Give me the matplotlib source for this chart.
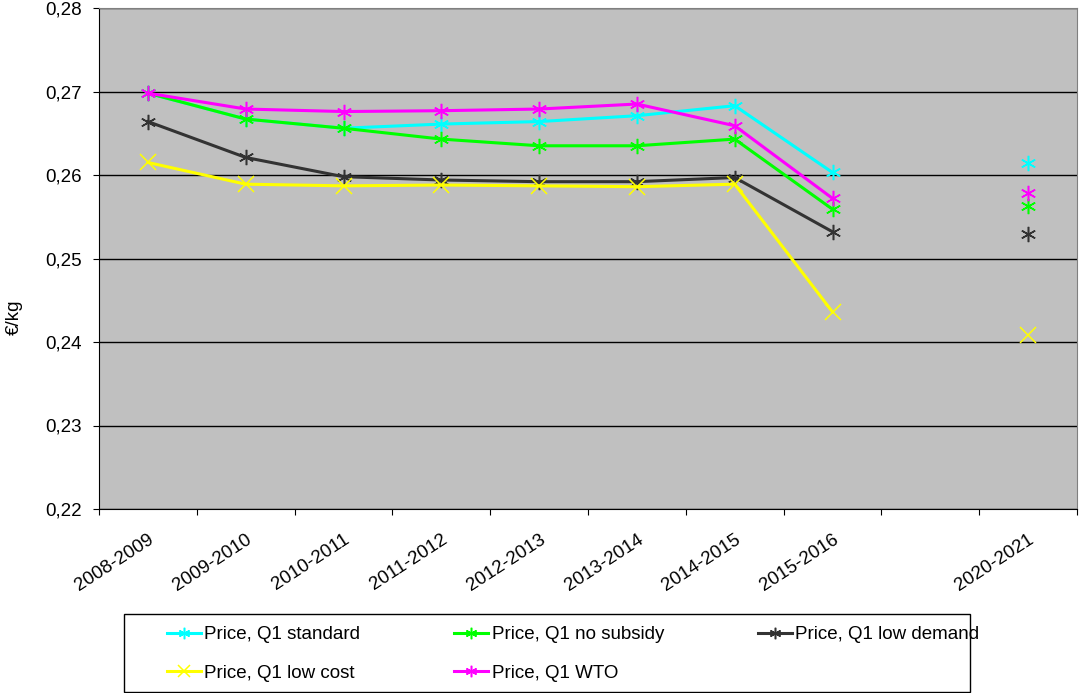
import matplotlib
matplotlib.use('Agg')
import matplotlib.pyplot as plt
from matplotlib.patches import Rectangle
import numpy as np

plt.rcParams['font.family'] = ['Liberation Sans', 'DejaVu Sans']

# Categories (slot 8 is an empty gap in the original chart)
seasons = ['2008-2009', '2009-2010', '2010-2011', '2011-2012', '2012-2013',
           '2013-2014', '2014-2015', '2015-2016', '', '2020-2021']

nan = np.nan
standard = [0.2698, 0.2667, 0.2656, 0.2661, 0.2664, 0.2671, 0.2683, 0.2603, nan, 0.2614]
no_subsidy = [0.2698, 0.2667, 0.2656, 0.2643, 0.2635, 0.2635, 0.2643, 0.2559, nan, 0.2563]
low_demand = [0.2664, 0.2621, 0.2598, 0.2594, 0.2592, 0.2592, 0.2597, 0.2532, nan, 0.2529]
low_cost = [0.2615, 0.2589, 0.2587, 0.2588, 0.2587, 0.2586, 0.2589, 0.2436, nan, 0.2408]
wto = [0.2698, 0.2679, 0.2676, 0.2677, 0.2679, 0.2685, 0.2659, 0.2572, nan, 0.2579]

star = (6, 2, 0)
series = [
    ('Price, Q1 standard', standard, '#00FFFF', star),
    ('Price, Q1 no subsidy', no_subsidy, '#00FF00', star),
    ('Price, Q1 low demand', low_demand, '#333333', star),
    ('Price, Q1 low cost', low_cost, '#FFFF00', 'x'),
    ('Price, Q1 WTO', wto, '#FF00FF', star),
]

FS = 13.5
W, H = 1080, 693

fig = plt.figure(figsize=(10.8, 6.93), dpi=100)
ax = fig.add_axes([99 / W, 1 - 509 / H, 978 / W, 501 / H])
ax.set_facecolor('#C0C0C0')

x = np.arange(len(seasons)) + 0.5
handles = []
for name, vals, col, mk in series:
    h, = ax.plot(x, vals, color=col, lw=2.2, marker=mk, markersize=11,
                 markeredgewidth=1.1, label=name)
    handles.append(h)

ax.set_xlim(0, len(seasons))
ax.set_ylim(0.22, 0.28)
yt = np.arange(0.22, 0.2801, 0.01)
ax.set_yticks(yt)
ax.set_yticklabels([('%.2f' % v).replace('.', ',') for v in yt])
ax.yaxis.grid(True, color='black', lw=1)
ax.set_axisbelow(True)

ax.set_xticks(np.arange(len(seasons) + 1))
ax.set_xticklabels([])
ax.set_xticks(x, minor=True)
ax.set_xticklabels(seasons, minor=True, rotation=33, ha='right',
                   rotation_mode='anchor', fontsize=FS)
ax.tick_params(axis='x', which='minor', length=0, pad=16)
ax.tick_params(axis='x', which='major', length=4.5, direction='out')
ax.tick_params(axis='y', length=4.5, direction='out', labelsize=FS, pad=8)

for s in ('top', 'right'):
    ax.spines[s].set_color('#808080')
ax.spines['left'].set_color('black')
ax.spines['bottom'].set_color('black')

ax.set_ylabel('€/kg', fontsize=FS)
ax.yaxis.set_label_coords((23 - 99) / 978, (509 - 317) / 501)

# legend frame drawn separately so the inner padding can match
fig.patches.append(Rectangle((124 / W, 1 - 692 / H), 846 / W, 78 / H,
                             transform=fig.transFigure, fill=False,
                             edgecolor='black', lw=1))

# legend is filled row by row in the original, matplotlib fills by column
order = [0, 3, 1, 4, 2]
leg = fig.legend([handles[i] for i in order], [series[i][0] for i in order],
                 loc='upper left', bbox_to_anchor=(167 / W, 1 - 626 / H),
                 ncol=3, fontsize=FS, frameon=False, handlelength=1.8,
                 handletextpad=0.2, borderaxespad=0, borderpad=0,
                 labelspacing=1.15, columnspacing=5.0, markerscale=0.75)

fig.savefig('out.png', dpi=100)
